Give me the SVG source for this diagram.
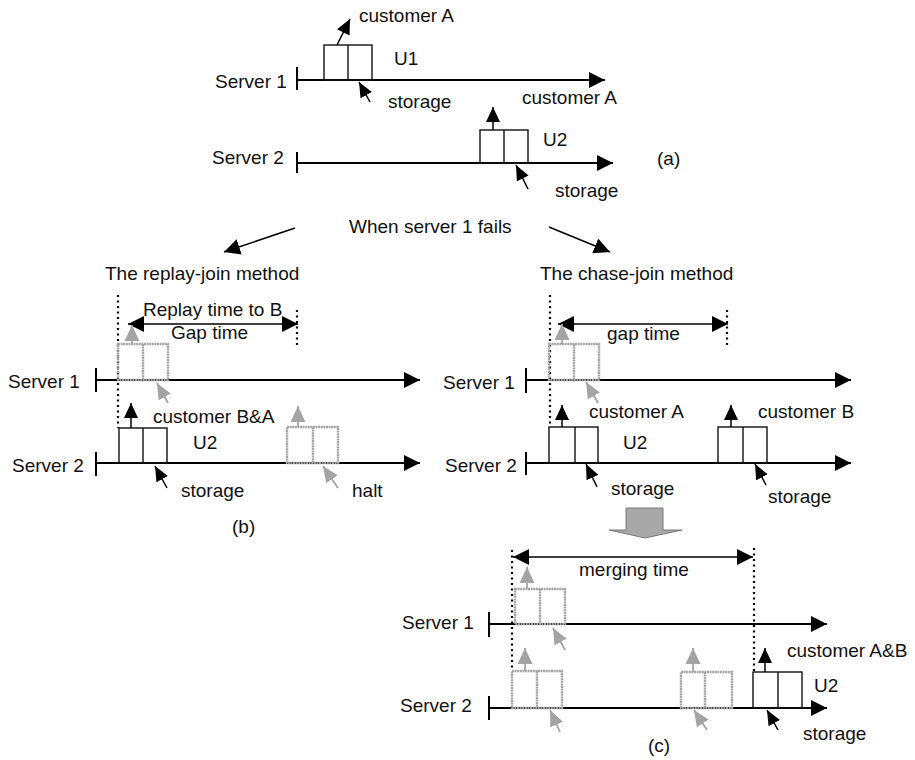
<svg xmlns="http://www.w3.org/2000/svg" width="915" height="760" viewBox="0 0 915 760">
<style>
text{font-family:"Liberation Sans",Arial,sans-serif;font-size:19px;fill:#111}
.ax{stroke:#000;stroke-width:2;fill:none}
.tk{stroke:#000;stroke-width:2}
.bx{stroke:#111;stroke-width:1.4;fill:none}
.gb{stroke:#a4a4a4;stroke-width:2.4;fill:none;stroke-dasharray:2 0.6}
.dot{stroke:#000;stroke-width:2.2;stroke-dasharray:2 3.5}
.ar{stroke:#000;stroke-width:1.5}
.ga{stroke:#a4a4a4;stroke-width:1.8}
</style>
<defs>
<marker id="ah" viewBox="0 0 16 16" refX="16" refY="8" markerWidth="16" markerHeight="16" markerUnits="userSpaceOnUse" orient="auto-start-reverse"><path d="M0,0 L16,8 L0,16 z" fill="#000"/></marker>
<marker id="up" viewBox="0 0 15 14" refX="15" refY="7" markerWidth="15" markerHeight="14" markerUnits="userSpaceOnUse" orient="auto"><path d="M0,0 L15,7 L0,14 z" fill="#000"/></marker>
<marker id="st" viewBox="0 0 15 13" refX="15" refY="6.5" markerWidth="15" markerHeight="13" markerUnits="userSpaceOnUse" orient="auto"><path d="M0,0 L15,6.5 L0,13 z" fill="#000"/></marker>
<marker id="gup" viewBox="0 0 16 15" refX="16" refY="7.5" markerWidth="16" markerHeight="15" markerUnits="userSpaceOnUse" orient="auto"><path d="M0,0 L16,7.5 L0,15 z" fill="#a4a4a4"/></marker>
<marker id="gst" viewBox="0 0 16 14" refX="16" refY="7" markerWidth="16" markerHeight="14" markerUnits="userSpaceOnUse" orient="auto"><path d="M0,0 L16,7 L0,14 z" fill="#a4a4a4"/></marker>
</defs>

<g id="connectors">
<line class="ar" x1="295" y1="228" x2="224" y2="252" marker-end="url(#ah)"/>
<line class="ar" x1="549" y1="227" x2="610" y2="252" marker-end="url(#ah)"/>
<line class="ar" x1="128" y1="324" x2="298" y2="324" marker-start="url(#ah)" marker-end="url(#ah)"/>
<line class="ar" x1="558" y1="324" x2="728" y2="324" marker-start="url(#ah)" marker-end="url(#ah)"/>
<line class="ar" x1="513" y1="557" x2="753" y2="557" marker-start="url(#ah)" marker-end="url(#ah)"/>
<line class="dot" x1="118" y1="295" x2="118" y2="428"/>
<line class="dot" x1="297" y1="310" x2="297" y2="348"/>
<line class="dot" x1="550" y1="295" x2="550" y2="427"/>
<line class="dot" x1="727" y1="310" x2="727" y2="347"/>
<line class="dot" x1="512" y1="550" x2="512" y2="671"/>
<line class="dot" x1="754" y1="548" x2="754" y2="672"/>
<polygon points="626,508 663,508 663,530 682,530 645,538 609,530 626,530" fill="#a8a8a8" stroke="#7a7a7a" stroke-width="1"/>
</g>

<g id="a-server1">
<text x="215" y="88">Server 1</text>
<line class="tk" x1="297" y1="67" x2="297" y2="90"/>
<line class="ax" x1="297" y1="80" x2="605" y2="80" marker-end="url(#ah)"/>
<rect class="bx" x="324" y="45" width="48" height="35"/>
<line class="bx" x1="348" y1="45" x2="348" y2="80"/>
<line class="ar" x1="337" y1="45" x2="350" y2="19" marker-end="url(#up)"/>
<text x="359" y="22">customer A</text>
<text x="394" y="65">U1</text>
<line class="ar" x1="370" y1="102" x2="359" y2="82" marker-end="url(#st)"/>
<text x="388" y="108">storage</text>
</g>

<g id="a-server2">
<text x="212" y="164">Server 2</text>
<line class="tk" x1="297" y1="152" x2="297" y2="173"/>
<line class="ax" x1="297" y1="163" x2="613" y2="163" marker-end="url(#ah)"/>
<rect class="bx" x="480" y="130" width="48" height="33"/>
<line class="bx" x1="504" y1="130" x2="504" y2="163"/>
<line class="ar" x1="493" y1="130" x2="493" y2="107" marker-end="url(#up)"/>
<text x="522" y="104">customer A</text>
<text x="543" y="146">U2</text>
<line class="ar" x1="528" y1="189" x2="516" y2="165" marker-end="url(#st)"/>
<text x="555" y="197">storage</text>
<text x="657" y="165">(a)</text>
</g>

<g id="fail-label">
<text x="349" y="233">When server 1 fails</text>
</g>

<g id="b-replay">
<text x="105" y="280">The replay-join method</text>
<text x="143" y="316">Replay time to B</text>
<text x="171" y="339">Gap time</text>
</g>

<g id="b-server1">
<text x="8" y="388">Server 1</text>
<line class="tk" x1="96" y1="368" x2="96" y2="392"/>
<line class="ax" x1="96" y1="380" x2="420" y2="380" marker-end="url(#ah)"/>
<rect class="gb" x="118" y="344" width="50" height="36"/>
<line class="gb" x1="143" y1="344" x2="143" y2="380"/>
<line class="ga" x1="132" y1="344" x2="132" y2="325" marker-end="url(#gup)"/>
<line class="ga" x1="168" y1="403" x2="157" y2="383" marker-end="url(#gst)"/>
</g>

<g id="b-server2">
<text x="12" y="472">Server 2</text>
<line class="tk" x1="96" y1="452" x2="96" y2="476"/>
<line class="ax" x1="96" y1="463" x2="420" y2="463" marker-end="url(#ah)"/>
<rect class="bx" x="119" y="428" width="48" height="35"/>
<line class="bx" x1="143" y1="428" x2="143" y2="463"/>
<line class="ar" x1="131" y1="428" x2="131" y2="403" marker-end="url(#up)"/>
<text x="153" y="423">customer B&amp;A</text>
<text x="193" y="449">U2</text>
<line class="ar" x1="167" y1="488" x2="155" y2="466" marker-end="url(#st)"/>
<text x="181" y="497">storage</text>
<rect class="gb" x="287" y="427" width="51" height="36"/>
<line class="gb" x1="313" y1="427" x2="313" y2="463"/>
<line class="ga" x1="298" y1="427" x2="298" y2="406" marker-end="url(#gup)"/>
<line class="ga" x1="338" y1="488" x2="323" y2="466" marker-end="url(#gst)"/>
<text x="352" y="497">halt</text>
<text x="232" y="533">(b)</text>
</g>

<g id="chase-title">
<text x="540" y="280">The chase-join method</text>
<text x="607" y="340">gap time</text>
</g>

<g id="chase-server1">
<text x="443" y="389">Server 1</text>
<line class="tk" x1="526" y1="368" x2="526" y2="393"/>
<line class="ax" x1="526" y1="380" x2="851" y2="380" marker-end="url(#ah)"/>
<rect class="gb" x="549" y="344" width="50" height="36"/>
<line class="gb" x1="574" y1="344" x2="574" y2="380"/>
<line class="ga" x1="562" y1="344" x2="562" y2="324" marker-end="url(#gup)"/>
<line class="ga" x1="598" y1="403" x2="586" y2="382" marker-end="url(#gst)"/>
</g>

<g id="chase-server2">
<text x="445" y="472">Server 2</text>
<line class="tk" x1="526" y1="452" x2="526" y2="475"/>
<line class="ax" x1="526" y1="463" x2="851" y2="463" marker-end="url(#ah)"/>
<rect class="bx" x="549" y="427" width="49" height="36"/>
<line class="bx" x1="575" y1="427" x2="575" y2="463"/>
<line class="ar" x1="562" y1="427" x2="562" y2="405" marker-end="url(#up)"/>
<text x="589" y="418">customer A</text>
<text x="623" y="449">U2</text>
<line class="ar" x1="597" y1="487" x2="586" y2="464" marker-end="url(#st)"/>
<text x="611" y="495">storage</text>
<rect class="bx" x="718" y="427" width="49" height="36"/>
<line class="bx" x1="743" y1="427" x2="743" y2="463"/>
<line class="ar" x1="731" y1="427" x2="731" y2="405" marker-end="url(#up)"/>
<text x="758" y="418">customer B</text>
<line class="ar" x1="766" y1="485" x2="755" y2="464" marker-end="url(#st)"/>
<text x="768" y="503">storage</text>
</g>

<g id="c-title">
<text x="579" y="576">merging time</text>
</g>

<g id="c-server1">
<text x="402" y="629">Server 1</text>
<line class="tk" x1="489" y1="612" x2="489" y2="637"/>
<line class="ax" x1="489" y1="624" x2="827" y2="624" marker-end="url(#ah)"/>
<rect class="gb" x="515" y="589" width="50" height="35"/>
<line class="gb" x1="540" y1="589" x2="540" y2="624"/>
<line class="ga" x1="527" y1="589" x2="527" y2="567" marker-end="url(#gup)"/>
<line class="ga" x1="565" y1="650" x2="553" y2="628" marker-end="url(#gst)"/>
</g>

<g id="c-server2">
<text x="400" y="712">Server 2</text>
<line class="tk" x1="489" y1="696" x2="489" y2="720"/>
<line class="ax" x1="489" y1="708" x2="827" y2="708" marker-end="url(#ah)"/>
<rect class="gb" x="512" y="671" width="50" height="37"/>
<line class="gb" x1="537" y1="671" x2="537" y2="708"/>
<line class="ga" x1="525" y1="671" x2="525" y2="648" marker-end="url(#gup)"/>
<line class="ga" x1="560" y1="732" x2="550" y2="710" marker-end="url(#gst)"/>
<rect class="gb" x="681" y="672" width="51" height="36"/>
<line class="gb" x1="705" y1="672" x2="705" y2="708"/>
<line class="ga" x1="693" y1="672" x2="693" y2="648" marker-end="url(#gup)"/>
<line class="ga" x1="707" y1="730" x2="694" y2="710" marker-end="url(#gst)"/>
<rect class="bx" x="753" y="672" width="49" height="36"/>
<line class="bx" x1="778" y1="672" x2="778" y2="708"/>
<line class="ar" x1="765" y1="672" x2="765" y2="648" marker-end="url(#up)"/>
<text x="787" y="657">customer A&amp;B</text>
<text x="814" y="692">U2</text>
<line class="ar" x1="778" y1="730" x2="767" y2="710" marker-end="url(#st)"/>
<text x="803" y="740">storage</text>
<text x="648" y="752">(c)</text>
</g>
</svg>
